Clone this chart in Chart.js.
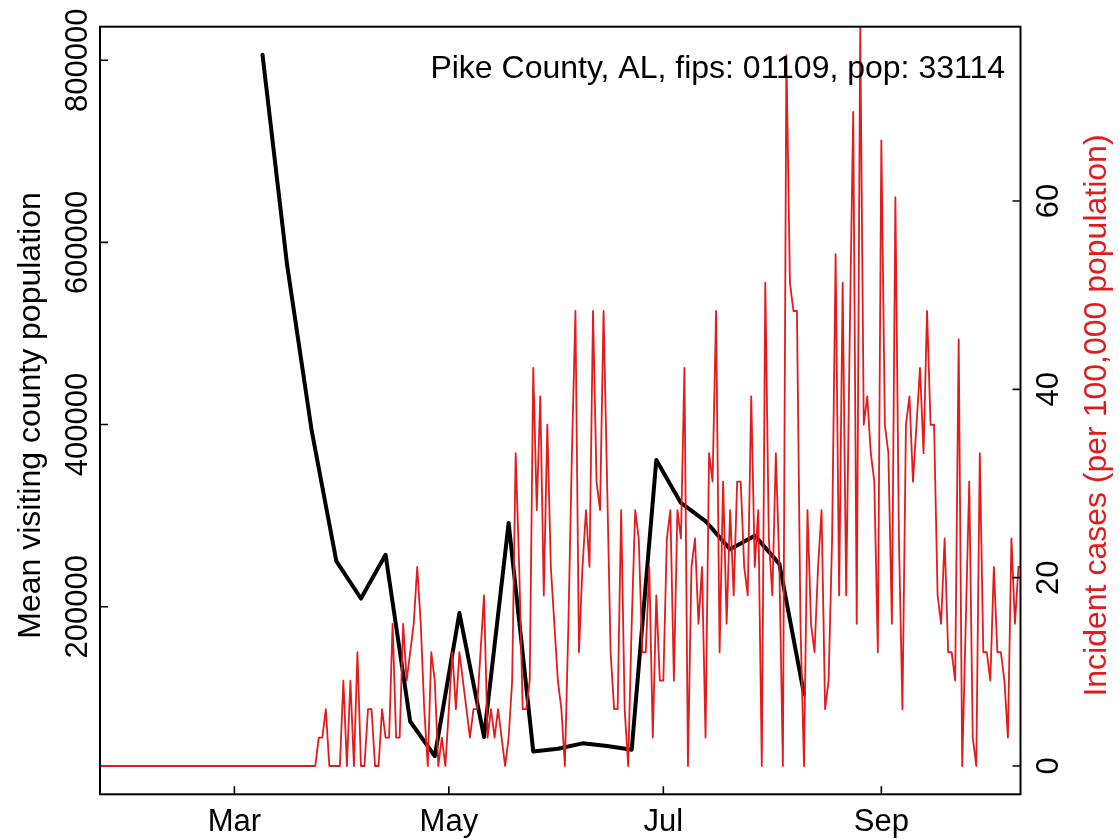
<!DOCTYPE html>
<html><head><meta charset="utf-8">
<script src="https://cdn.jsdelivr.net/npm/chart.js@4/dist/chart.umd.min.js"></script>
<style>html,body{margin:0;padding:0;background:#fff;overflow:hidden}#wrap{width:1119px;height:839px}</style>
</head><body><div id="wrap"><canvas id="c" width="1119" height="839"></canvas></div>
<script>
// ---- data ----
const titleText = 'Pike County, AL, fips: 01109, pop: 33114';
const countyPop = 33114;
const caseStartDay = 22; // day-of-year 2020 (Jan 1 = 0) of first daily value
// daily incident case counts (converted to per 100,000 below)
const dailyCases = [
 0,0,0,0,0,0,0,0,0,0,
 0,0,0,0,0,0,0,0,0,0,
 0,0,0,0,0,0,0,0,0,0,
 0,0,0,0,0,0,0,0,0,0,
 0,0,0,0,0,0,0,0,0,0,
 0,0,0,0,0,0,0,0,0,0,
 0,0,
 1,1,2,0,0,0,0,3,0,3,
 0,4,0,0,2,2,0,0,2,1,
 1,5,1,1,5,3,4,5,7,5,
 2,0,4,3,0,1,0,2,4,2,
 4,3,2,1,2,2,4,6,1,2,
 1,2,1,0,1,3,11,7,2,2,
 3,14,9,13,6,12,7,5,3,2,
 0,5,11,16,4,7,9,7,16,10,
 9,16,10,4,2,2,9,2,0,5,
 9,8,4,4,7,1,6,3,3,8,
 9,3,9,8,14,0,7,8,5,7,
 1,11,10,16,4,10,5,9,6,10,
 10,7,6,13,7,9,0,17,8,6,
 11,7,0,25,17,16,16,5,0,9,
 5,4,7,9,2,3,8,18,6,17,
 6,15,23,5,26,12,13,11,10,4,
 22,12,11,5,20,8,2,12,13,10,
 12,14,11,16,12,12,6,5,8,4,
 4,3,15,0,5,10,1,0,11,4,
 4,3,7,4,4,3,1,8,5,7,7
];
const visitDays = [68,75,82,89,96,103,110,117,124,131,138,145,152,159,166,173,180,187,194,201,208,215,222];
const visitValues = [806000,575000,393000,250000,209000,257000,74000,36000,193000,57000,292000,41000,44000,50000,47000,43000,361000,314000,294000,263000,278000,247000,104000];
const monthTickDays = [60,121,182,244];
const monthLabels = ['Mar','May','Jul','Sep'];
const leftTicks = [200000,400000,600000,800000];
const rightTicks = [0,20,40,60];
const leftTitle = 'Mean visiting county population';
const rightTitle = 'Incident cases (per 100,000 population)';

// ---- build ----
const casePoints = dailyCases.map((c,i)=>({x: caseStartDay + i, y: c*100000/countyPop}));
const visitPoints = visitDays.map((d,i)=>({x:d, y:visitValues[i]}));
const RED = '#E41A1C';
const FAM = '"Liberation Sans", Arial, Helvetica, sans-serif';

const rPlugin = {
  id:'rstyle',
  afterDraw(chart){
    const {ctx, chartArea:a, scales} = chart;
    ctx.save();
    ctx.strokeStyle = '#000';
    ctx.lineWidth = 2;
    ctx.strokeRect(a.left, a.top, a.right-a.left, a.bottom-a.top);
    const tl = 8;
    ctx.lineWidth = 1.6;
    ctx.beginPath();
    monthTickDays.forEach(d=>{const x=scales.x.getPixelForValue(d); ctx.moveTo(x,a.bottom); ctx.lineTo(x,a.bottom-tl);});
    leftTicks.forEach(v=>{const y=scales.y.getPixelForValue(v); ctx.moveTo(a.left,y); ctx.lineTo(a.left+tl,y);});
    rightTicks.forEach(v=>{const y=scales.y2.getPixelForValue(v); ctx.moveTo(a.right,y); ctx.lineTo(a.right-tl,y);});
    ctx.stroke();

    ctx.font = '31px ' + FAM;
    ctx.fillStyle = '#000';
    ctx.textAlign = 'center';
    ctx.textBaseline = 'alphabetic';
    monthTickDays.forEach((d,i)=>{ctx.fillText(monthLabels[i], scales.x.getPixelForValue(d), 831);});
    const rot = (txt, x, y, color)=>{ctx.save(); ctx.translate(x,y); ctx.rotate(-Math.PI/2); ctx.fillStyle=color; ctx.fillText(txt,0,0); ctx.restore();};
    leftTicks.forEach(v=>rot(String(v), 87, scales.y.getPixelForValue(v), '#000'));
    rightTicks.forEach(v=>rot(String(v), 1058, scales.y2.getPixelForValue(v), '#000'));
    const midY = (a.top+a.bottom)/2;
    ctx.font = '32px ' + FAM;
    rot(leftTitle, 40, midY + 5, '#000');
    rot(rightTitle, 1106, midY + 5, RED);
    ctx.textAlign = 'right';
    ctx.fillText(titleText, 1005, 78);
    ctx.restore();
  }
};

new Chart(document.getElementById('c'), {
  type:'line',
  data:{datasets:[
    {label:'cases', data:casePoints, yAxisID:'y2', xAxisID:'x', borderColor:RED, borderWidth:1.8, pointRadius:0, tension:0, fill:false, borderJoinStyle:'round'},
    {label:'visits', data:visitPoints, yAxisID:'y', xAxisID:'x', borderColor:'#000', borderWidth:4, pointRadius:0, tension:0, fill:false, borderJoinStyle:'round', borderCapStyle:'round'}
  ]},
  options:{
    responsive:false, animation:false, devicePixelRatio:1,
    layout:{padding:{top:26.7,left:0,right:0,bottom:0}},
    plugins:{legend:{display:false}, tooltip:{enabled:false}, title:{display:false}},
    scales:{
      x:{type:'linear', min:21.78, max:283.58, grid:{display:false}, border:{display:false}, ticks:{display:false}, afterFit(s){s.height=44.7;}},
      y:{type:'linear', position:'left', min:-5950, max:836820, grid:{display:false}, border:{display:false}, ticks:{display:false}, afterFit(s){s.width=100;}},
      y2:{type:'linear', position:'right', min:-3.005, max:78.51, grid:{display:false}, border:{display:false}, ticks:{display:false}, afterFit(s){s.width=98.5;}}
    }
  },
  plugins:[rPlugin]
});
</script></body></html>
